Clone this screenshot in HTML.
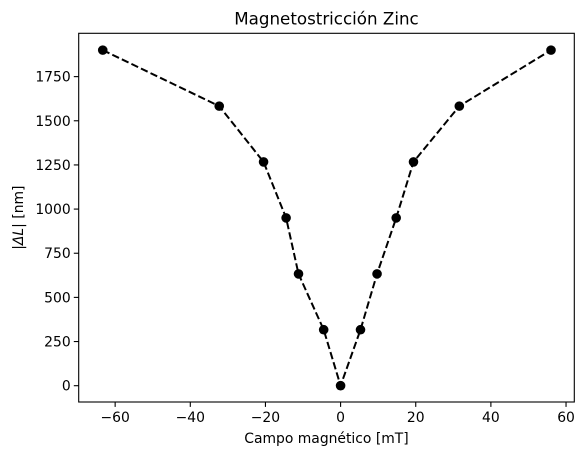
<!DOCTYPE html>
<html><head><meta charset="utf-8"><style>
body{margin:0;background:#fff;}
svg{display:block;font-family:"DejaVu Sans","Liberation Sans",sans-serif;}
</style></head><body>
<svg id="chart" width="584" height="456">
<rect x="0" y="0" width="584" height="456" fill="#fff"/>
<g id="plot"></g>
</svg>
<script>
const fieldValues=[-63.3,-32.3,-20.5,-14.5,-11.2,-4.5,0,5.3,9.7,14.8,19.4,31.6,56.0];
const deltaL=[1900,1583,1267,950,633,317,0,317,633,950,1267,1583,1900];
const xTicks=[-60,-40,-20,0,20,40,60];
const yTicks=[0,250,500,750,1000,1250,1500,1750];
const L=78.7,R=574.3,T=33.3,B=402;
const xMin=-69.7,xMax=62.2,yMin=-92.3,yMax=1995.3;
const sx=v=>L+(v-xMin)/(xMax-xMin)*(R-L);
const sy=v=>B-(v-yMin)/(yMax-yMin)*(B-T);
const ns="http://www.w3.org/2000/svg";
const g=document.getElementById('plot');
function mk(t,a){const e=document.createElementNS(ns,t);for(const k in a)e.setAttribute(k,a[k]);g.appendChild(e);return e;}
xTicks.forEach(v=>{
 const l=mk('line',{x1:sx(v),x2:sx(v),y1:B,y2:B+4.9,stroke:'#000','stroke-width':1.1});
 
 
 const t=mk('text',{x:sx(v),y:B+20,'text-anchor':'middle','font-size':13.9});
 t.textContent=v<0?'\u2212'+(-v):v;
 
 
});
yTicks.forEach(v=>{
 const l=mk('line',{x1:L-4.9,x2:L,y1:sy(v),y2:sy(v),stroke:'#000','stroke-width':1.1});
 
 
 const t=mk('text',{x:L-8,y:sy(v)+5,'text-anchor':'end','font-size':13.9});
 t.textContent=v;
 
 
});
const pts=fieldValues.map((x,i)=>sx(x)+','+sy(deltaL[i])).join(' ');
const line=mk('polyline',{points:pts,fill:'none',stroke:'#000','stroke-width':2,'stroke-dasharray':'7.4,3.2'});


fieldValues.forEach((x,i)=>{
 const c=mk('circle',{cx:sx(x),cy:sy(deltaL[i]),r:4.8,fill:'#000'});
 
 
});
const frame=mk('rect',{x:L,y:T,width:R-L,height:B-T,fill:'none',stroke:'#000','stroke-width':1.1});


const title=mk('text',{x:(L+R)/2,y:T-9,'text-anchor':'middle','font-size':16.7});
title.textContent='Magnetostricción Zinc';


const xl=mk('text',{x:(L+R)/2,y:443,'text-anchor':'middle','font-size':13.9});
xl.textContent='Campo magnético [mT]';


const yl=mk('text',{x:0,y:0,'text-anchor':'middle','font-size':13.9,transform:'translate(23,'+((T+B)/2)+') rotate(-90)'});
yl.innerHTML='|<tspan font-style="italic">ΔL</tspan>| [nm]';


</script>
</body></html>
